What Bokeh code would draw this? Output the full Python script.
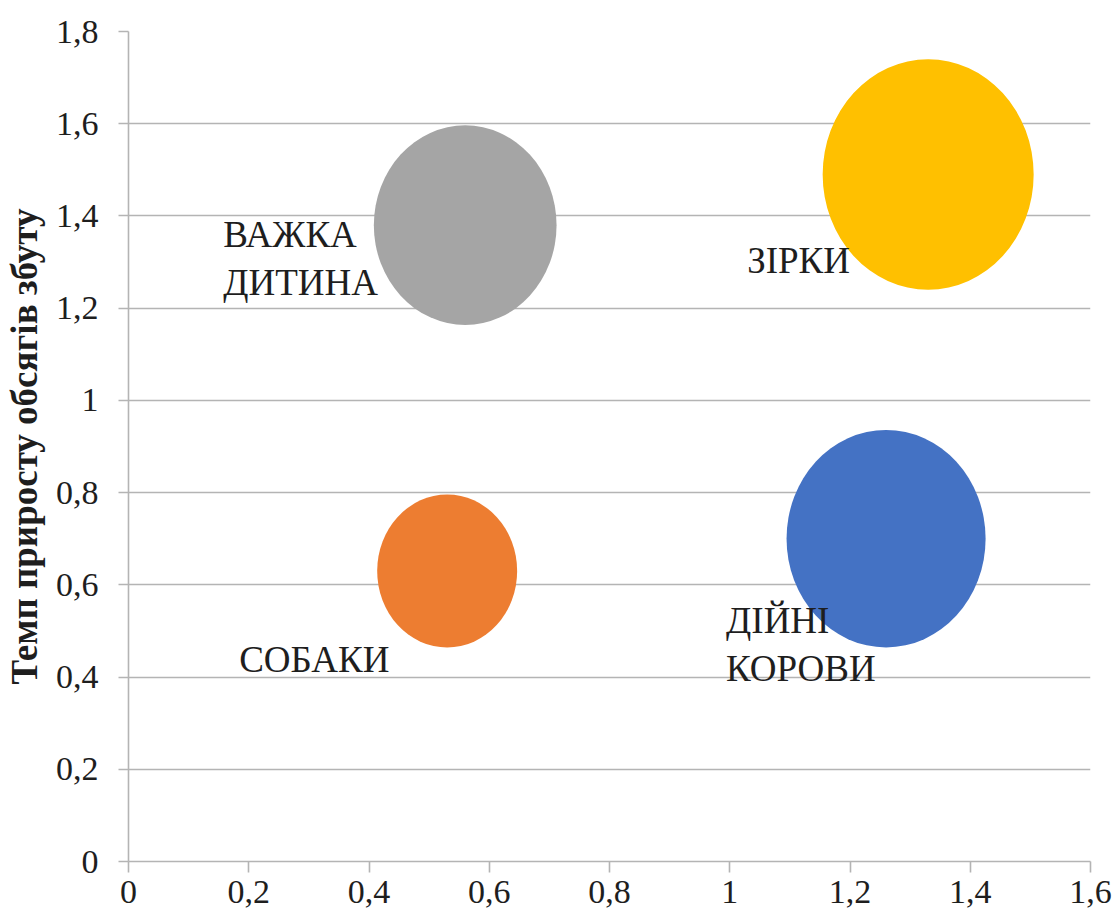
import math
from bokeh.plotting import figure
from bokeh.models import Range1d, FixedTicker, ColumnDataSource
from bokeh.core.properties import value
from bokeh.embed import file_html
from bokeh.resources import INLINE

# ---- data ----
categories = ["ВАЖКА\nДИТИНА", "ЗІРКИ", "СОБАКИ", "ДІЙНІ\nКОРОВИ"]
market_share = [0.56, 1.33, 0.53, 1.26]
growth_rate = [1.38, 1.49, 0.63, 0.70]
bubble_size = [0.75, 1.00, 0.44, 0.89]
colors = ["#A5A5A5", "#FFC000", "#ED7D31", "#4472C4"]

x_ticks = [0, 0.2, 0.4, 0.6, 0.8, 1.0, 1.2, 1.4, 1.6]
x_tick_labels = ["0", "0,2", "0,4", "0,6", "0,8", "1", "1,2", "1,4", "1,6"]
y_ticks = [0, 0.2, 0.4, 0.6, 0.8, 1.0, 1.2, 1.4, 1.6, 1.8]
y_tick_labels = ["0", "0,2", "0,4", "0,6", "0,8", "1", "1,2", "1,4", "1,6", "1,8"]
y_axis_title = "Темп приросту обсягів збуту"

# ---- layout / style ----
MAX_DIAM = 211.0      # px, diameter of the largest bubble
V_STRETCH = 1.093     # vertical stretch of the bubbles
label_dx = [-242, -181, -208, -160]
label_dy = [33, 86, 88, 106]
FONT = "Liberation Serif"
GRID = "#b4b4b4"
TXT = "#1e1e1e"

smax = max(bubble_size)
diam_w = [MAX_DIAM * math.sqrt(s / smax) for s in bubble_size]
diam_h = [d * V_STRETCH for d in diam_w]

src = ColumnDataSource(dict(
    x=market_share, y=growth_rate, w=diam_w, h=diam_h, color=colors,
    label=categories, dx=label_dx, dy=label_dy,
))

p = figure(width=1115, height=922, output_backend="svg", toolbar_location=None,
           x_range=Range1d(0, 1.6), y_range=Range1d(0, 1.8),
           min_border_left=127, min_border_right=25, min_border_top=31,
           min_border_bottom=61)
p.outline_line_color = None
p.background_fill_color = "white"
p.border_fill_color = "white"

p.xgrid.visible = False
p.ygrid.grid_line_color = GRID
p.ygrid.grid_line_width = 1.6
p.ygrid.ticker = FixedTicker(ticks=y_ticks)

for ax in (p.xaxis[0], p.yaxis[0]):
    ax.axis_line_color = GRID
    ax.axis_line_width = 1.6
    ax.major_tick_line_color = GRID
    ax.major_tick_line_width = 1.6
    ax.major_tick_in = 0
    ax.minor_tick_line_color = None
    ax.major_label_text_font = FONT
    ax.major_label_text_font_size = "34px"
    ax.major_label_text_color = TXT

p.xaxis.ticker = FixedTicker(ticks=x_ticks)
p.xaxis.major_label_overrides = dict(zip(x_ticks, x_tick_labels))
p.xaxis.major_tick_out = 11
p.xaxis.major_label_standoff = 8

p.yaxis.ticker = FixedTicker(ticks=y_ticks)
p.yaxis.major_label_overrides = dict(zip(y_ticks, y_tick_labels))
p.yaxis.major_tick_out = 10
p.yaxis.major_label_standoff = 20
p.yaxis.axis_label = y_axis_title
p.yaxis.axis_label_text_font = FONT
p.yaxis.axis_label_text_font_style = "bold"
p.yaxis.axis_label_text_font_size = "37px"
p.yaxis.axis_label_text_color = TXT
p.yaxis.axis_label_standoff = 8

p.ellipse(x="x", y="y", width="w", height="h", width_units="screen",
          height_units="screen", fill_color="color", line_color=None, source=src)

p.text(x="x", y="y", text="label", x_offset="dx", y_offset="dy", source=src,
       text_font=value(FONT), text_font_size="37px", text_color=TXT,
       text_align="left", text_baseline="middle", text_line_height=1.17)

open("out.html", "w").write(file_html(p, INLINE))
